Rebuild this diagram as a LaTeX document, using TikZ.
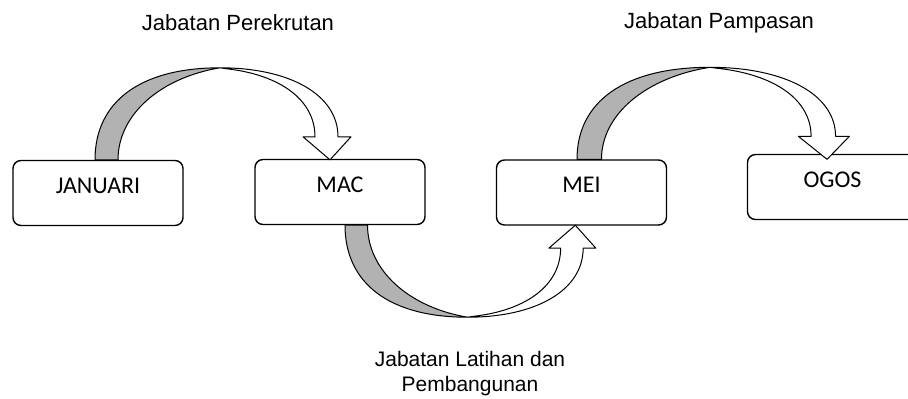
\documentclass[tikz,border=0pt]{standalone}
\usepackage{fontspec}
\newfontfamily\boxfamily{Carlito}
\newfontfamily\tagfamily{Liberation Sans}

\begin{document}
\begin{tikzpicture}[x=0.5pt, y=-0.5pt,
    month/.style={draw, line width=0.7pt, rounded corners=4pt, fill=white,
      minimum width=85pt, minimum height=32.5pt, inner sep=0pt,
      text height=8pt, text depth=8pt, font=\boxfamily\fontsize{12}{14}\selectfont},
    unit/.style={inner sep=0pt, font=\tagfamily\fontsize{11}{13}\selectfont},
    ribbon/.style={draw=black, line width=0.5pt, line join=round},
    bent arrow/.pic={
      % shaded back of the ribbon
      \path[ribbon, fill=black!30] (0,0) .. controls (0,-58) and (45,-92) .. (125,-92)
        .. controls (65,-82) and (23,-45) .. (23,0) -- cycle;
      % front of the ribbon with the head
      \path[ribbon, fill=white] (125,-92) .. controls (195,-92) and (243,-65) .. (243,-23)
        -- (256,-23) -- (235,0) -- (208,-23) -- (220,-23)
        .. controls (220,-60) and (185,-85) .. (132,-91) -- cycle;
    }]
  \useasboundingbox (0,0) rectangle (908,398);
  \clip (0,0) rectangle (908,398);

  \node[month] (januari) at (98,193) {JANUARI};
  \node[month] (mac) at (340,192) {MAC};
  \node[month] (mei) at (581.5,192.5) {MEI};
  \node[month] (ogos) at (832.5,187) {OGOS};

  \pic at ([xshift=-1.5pt]januari.north) {bent arrow};
  \pic[xscale=1.064] at ([xshift=-2.25pt]mei.north) {bent arrow};
  \pic[yscale=-1, xscale=0.98] at ([xshift=2.5pt]mac.south) {bent arrow};

  \node[unit, anchor=base] (rekrut) at (238,30) {Jabatan Perekrutan};
  \node[unit, anchor=base] (pampasan) at (719,28) {Jabatan Pampasan};
  \node[unit, align=center, font=\tagfamily\fontsize{10.5}{12.5}\selectfont]
    (latihan) at (470,374) {Jabatan Latihan dan\\Pembangunan};
\end{tikzpicture}
\end{document}
